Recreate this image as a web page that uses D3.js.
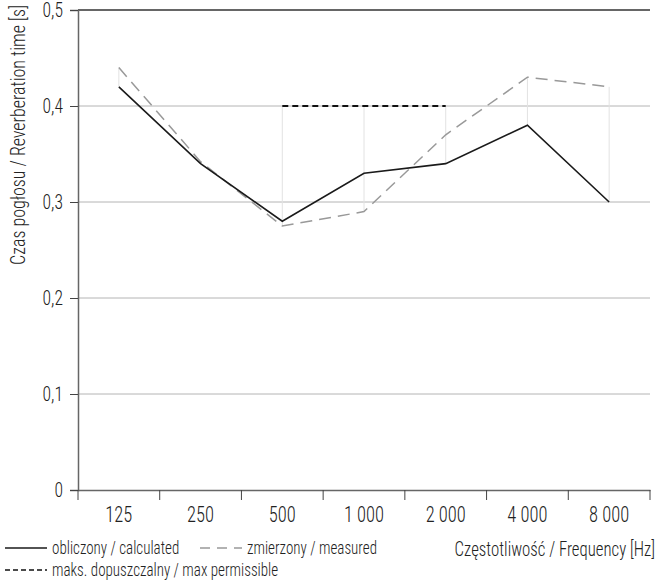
<!DOCTYPE html>
<html>
<head>
<meta charset="utf-8">
<script src="https://cdn.jsdelivr.net/npm/d3@7"></script>
<style>
  body { margin: 0; background: #fff; }
  text { font-family: "Roboto Condensed", "Liberation Sans Narrow", "DejaVu Sans Condensed", sans-serif; font-weight: 300; fill: #222; }
</style>
</head>
<body>
<div id="chart"></div>
<script>
var w = 670, h = 584;
var margin = {left: 78, right: 20, top: 10, bottom: 94}; // plot area: x 78..650, y 10..490

var frequencies = ["125", "250", "500", "1 000", "2 000", "4 000", "8 000"];
var calculated = [0.42, 0.34, 0.28, 0.33, 0.34, 0.38, 0.30];
var measured = [0.44, 0.342, 0.275, 0.29, 0.37, 0.43, 0.42];
var maxPermissible = [null, null, 0.4, 0.4, 0.4, null, null];
var yTicks = [0, 0.1, 0.2, 0.3, 0.4, 0.5];

var svg = d3.select("#chart").append("svg")
    .attr("width", w)
    .attr("height", h);

var x = d3.scaleBand()
    .domain(frequencies)
    .range([margin.left, w - margin.right]);

var y = d3.scaleLinear()
    .domain([0, 0.5])
    .range([h - margin.bottom, margin.top]);

var fmt = function(d) { return d === 0 ? "0" : d3.format(".1f")(d).replace(".", ","); };
var cx = function(d, i) { return x(frequencies[i]) + x.bandwidth() / 2; };

// the reference font is a tall condensed face, so squeeze text horizontally
var squeeze = 0.86;

// horizontal grid
svg.append("g")
  .selectAll("line")
  .data(yTicks.filter(function(d) { return d > 0 && d < 0.5; }))
  .enter().append("line")
    .attr("x1", margin.left).attr("x2", w - margin.right)
    .attr("y1", function(d) { return y(d); }).attr("y2", function(d) { return y(d); })
    .attr("stroke", "#b4b4b4").attr("stroke-width", 1);

// top frame line
svg.append("line")
    .attr("x1", margin.left).attr("x2", w - margin.right)
    .attr("y1", y(0.5)).attr("y2", y(0.5))
    .attr("stroke", "#333").attr("stroke-width", 1.5);

// light vertical connectors: span of all values at each frequency
function span(i) {
  var v = [calculated[i], measured[i]];
  if (maxPermissible[i] != null) v.push(maxPermissible[i]);
  return d3.extent(v);
}
svg.append("g")
  .selectAll("line")
  .data(frequencies)
  .enter().append("line")
    .attr("x1", function(d, i) { return cx(d, i); })
    .attr("x2", function(d, i) { return cx(d, i); })
    .attr("y1", function(d, i) { return y(span(i)[0]); })
    .attr("y2", function(d, i) { return y(span(i)[1]); })
    .attr("stroke", "#e2e2e2").attr("stroke-width", 1);

// y axis
var yAxis = svg.append("g")
    .attr("transform", "translate(" + margin.left + ",0)")
    .call(d3.axisLeft(y).tickValues(yTicks).tickFormat(fmt).tickSize(8).tickPadding(7));
yAxis.select(".domain").attr("stroke", "#666").attr("stroke-width", 1.5);
yAxis.selectAll(".tick line").attr("stroke", "#444");
yAxis.selectAll("text")
    .style("font-size", "19.5px")
    .attr("fill", "#222")
    .attr("x", -15 / 0.9)
    .attr("transform", "scale(0.9,1)");

// x axis
var xAxis = svg.append("g")
    .attr("transform", "translate(0," + y(0) + ")")
    .call(d3.axisBottom(x).tickSize(0).tickPadding(17));
xAxis.select(".domain").attr("stroke", "#666").attr("stroke-width", 1.5);
xAxis.selectAll("text")
    .style("font-size", "21.5px")
    .attr("fill", "#222")
    .attr("transform", "scale(" + squeeze + ",1)");
xAxis.append("g")
  .selectAll("line")
  .data(frequencies.concat(["end"]))
  .enter().append("line")
    .attr("x1", function(d, i) { return margin.left + i * x.bandwidth(); })
    .attr("x2", function(d, i) { return margin.left + i * x.bandwidth(); })
    .attr("y1", 0).attr("y2", 10)
    .attr("stroke", "#444").attr("stroke-width", 1);

var line = d3.line()
    .defined(function(d) { return d != null; })
    .x(function(d, i) { return cx(d, i); })
    .y(function(d) { return y(d); });

// max permissible
svg.append("path")
    .datum(maxPermissible)
    .attr("d", line)
    .attr("fill", "none")
    .attr("stroke", "#111")
    .attr("stroke-width", 2)
    .attr("stroke-dasharray", "6,4");

// measured
svg.append("path")
    .datum(measured)
    .attr("d", line)
    .attr("fill", "none")
    .attr("stroke", "#999")
    .attr("stroke-width", 1.5)
    .attr("stroke-dasharray", "12,7");

// calculated
svg.append("path")
    .datum(calculated)
    .attr("d", line)
    .attr("fill", "none")
    .attr("stroke", "#1a1a1a")
    .attr("stroke-width", 1.6);

// y axis title
svg.append("text")
    .attr("transform", "translate(25,5) rotate(-90) scale(0.93,1)")
    .attr("text-anchor", "end")
    .style("font-size", "19.3px")
    .text("Czas pogłosu / Reverberation time [s]");

// x axis title
svg.append("text")
    .attr("transform", "translate(655,556) scale(" + squeeze + ",1)")
    .attr("text-anchor", "end")
    .style("font-size", "19.5px")
    .text("Częstotliwość / Frequency [Hz]");

// legend
var legendItems = [
  {label: "obliczony / calculated", x: 5, y: 548, stroke: "#1a1a1a", dash: null, width: 1.6},
  {label: "zmierzony / measured", x: 200, y: 548, stroke: "#999", dash: "10,7", width: 1.5},
  {label: "maks. dopuszczalny / max permissible", x: 5, y: 570, stroke: "#111", dash: "5,3", width: 1.5}
];
var legend = svg.append("g");
var item = legend.selectAll("g").data(legendItems).enter().append("g")
    .attr("transform", function(d) { return "translate(" + d.x + "," + d.y + ")"; });
item.append("line")
    .attr("x1", 0).attr("x2", 42)
    .attr("stroke", function(d) { return d.stroke; })
    .attr("stroke-width", function(d) { return d.width; })
    .attr("stroke-dasharray", function(d) { return d.dash; });
item.append("text")
    .attr("transform", "translate(47,6) scale(" + squeeze + ",1)")
    .style("font-size", "17.5px")
    .text(function(d) { return d.label; });
</script>
</body>
</html>
